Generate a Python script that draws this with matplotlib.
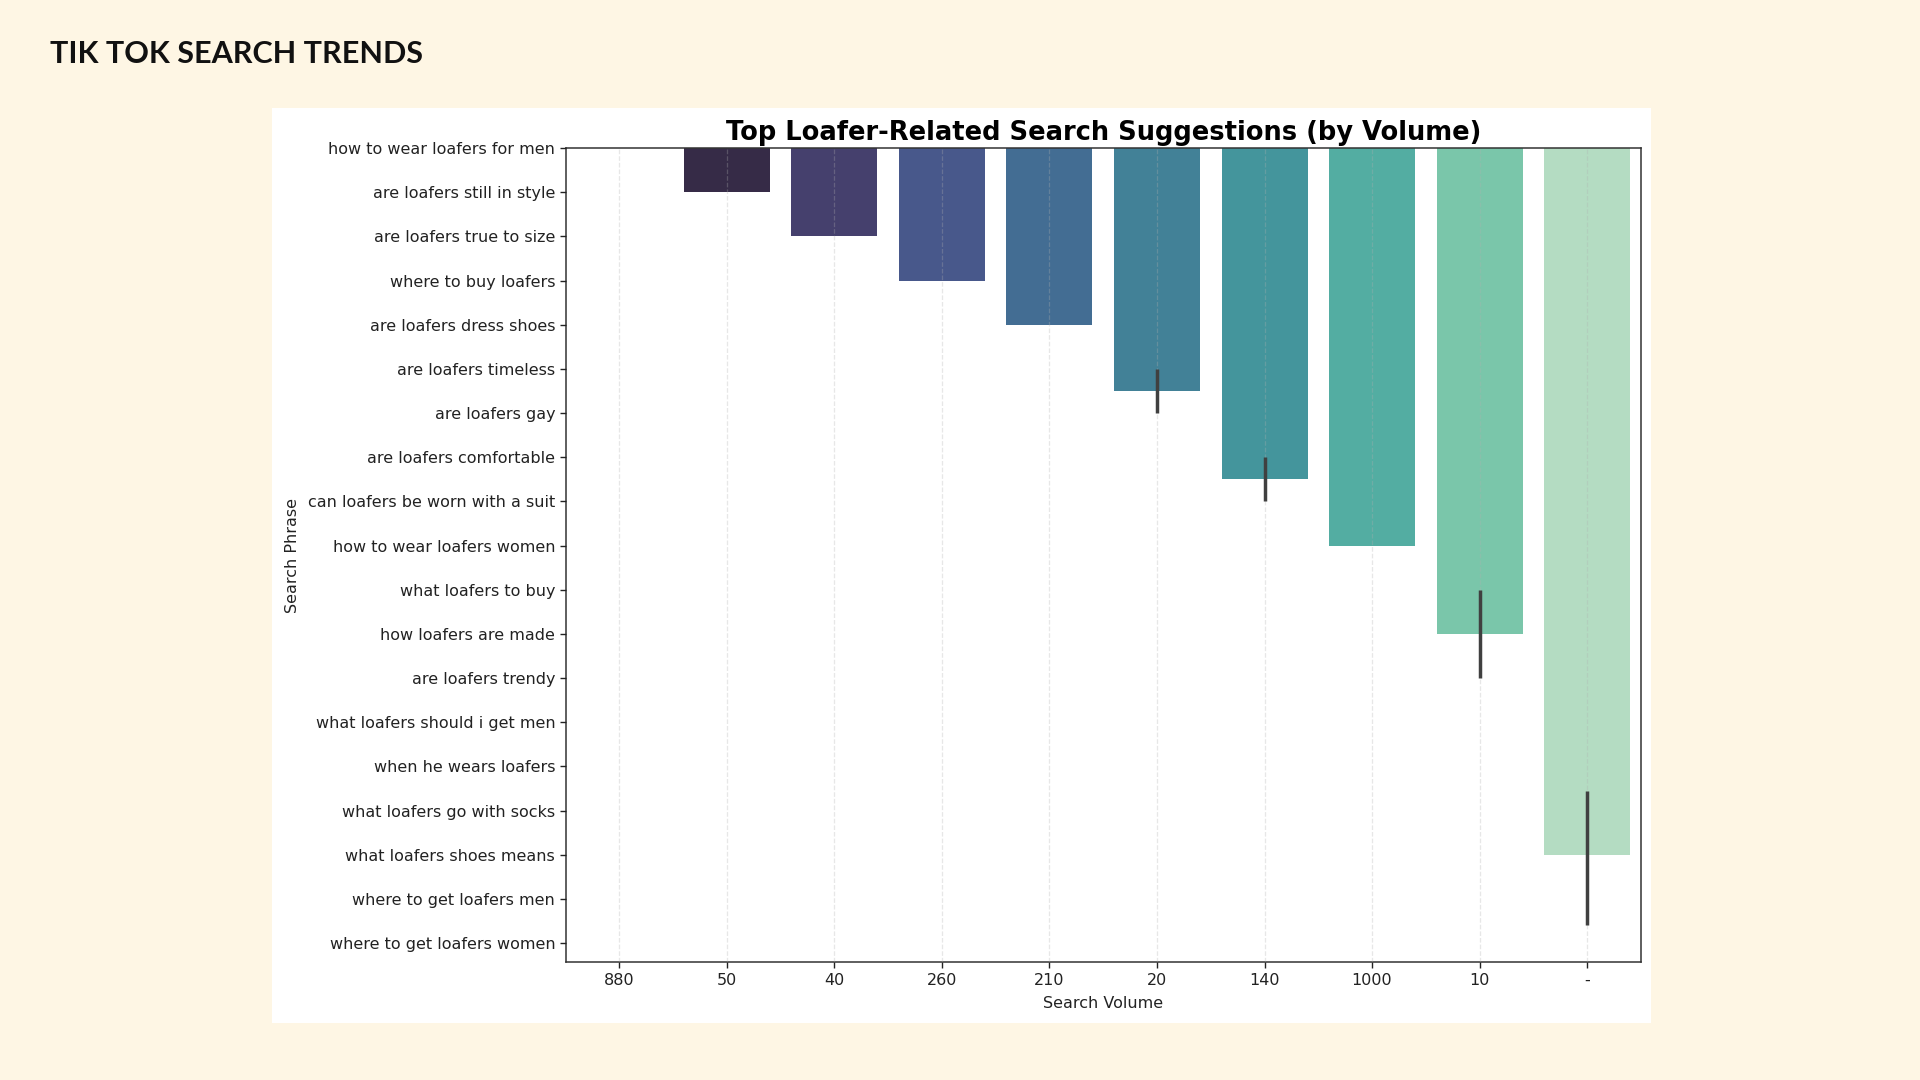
import matplotlib
matplotlib.use("Agg")
import matplotlib.pyplot as plt
import seaborn as sns
import numpy as np

# ---- data ----
phrases = [
    "how to wear loafers for men", "are loafers still in style", "are loafers true to size",
    "where to buy loafers", "are loafers dress shoes", "are loafers timeless", "are loafers gay",
    "are loafers comfortable", "can loafers be worn with a suit", "how to wear loafers women",
    "what loafers to buy", "how loafers are made", "are loafers trendy",
    "what loafers should i get men", "when he wears loafers", "what loafers go with socks",
    "what loafers shoes means", "where to get loafers men", "where to get loafers women",
]
volumes = ["880", "50", "40", "260", "210", "20", "20", "140", "140", "1000",
           "10", "10", "10", None, "-", "-", "-", "-", "-"]
volume_order = ["880", "50", "40", "260", "210", "20", "140", "1000", "10", "-"]
# confidence interval extents (in phrase-index units)
ci_low = [None, None, None, None, None, 5.0, 7.0, None, 10.0, 14.55]
ci_high = [None, None, None, None, None, 6.0, 8.0, None, 12.0, 17.6]

BG = "#FEF6E4"
fig = plt.figure(figsize=(19.2, 10.8), dpi=100, facecolor=BG)

# white panel (behind the axes)
panel = fig.add_axes([0.1416, 0.0528, 0.8597 - 0.1416, 0.9002 - 0.0528], zorder=0)
panel.set_facecolor("white")
panel.set_xticks([])
panel.set_yticks([])
for s in panel.spines.values():
    s.set_visible(False)

fig.text(0.026, 0.950, "TIK TOK SEARCH TRENDS", fontsize=22, fontweight="bold",
         family="Lato", color="#111111", va="center", ha="left")

ax = fig.add_axes([0.2946, 0.1088, 0.8546 - 0.2946, 0.8628 - 0.1088], zorder=2)
ax.set_facecolor("white")

colors = [sns.desaturate(c, 0.75) for c in sns.color_palette("mako", len(volume_order))]
idx = np.arange(len(phrases))
means = []
for v in volume_order:
    members = [i for i, vv in zip(idx, volumes) if vv == v]
    means.append(np.mean(members))

xpos = np.arange(len(volume_order))
ax.bar(xpos, means, width=0.8, color=colors, zorder=0.5)
for x, lo, hi in zip(xpos, ci_low, ci_high):
    if lo is not None:
        ax.plot([x, x], [lo, hi], color="#404040", lw=2.5, solid_capstyle="butt", zorder=3)

ax.set_xticks(xpos)
ax.set_xticklabels(volume_order)
ax.set_yticks(idx)
ax.set_yticklabels(phrases)
ax.set_xlim(-0.5, len(volume_order) - 0.5)
ax.set_ylim(18.44, 0)
ax.set_axisbelow(False)
ax.grid(axis="x", linestyle="--", alpha=0.3, color="#b0b0b0", lw=0.9)

ax.tick_params(labelsize=11.5, colors="#222222", length=4, width=1)
for s in ax.spines.values():
    s.set_color("#333333")
    s.set_linewidth(1.1)
ax.set_xlabel("Search Volume", fontsize=11.5, color="#222222", labelpad=6)
ax.set_ylabel("Search Phrase", fontsize=11.5, color="#222222", labelpad=6)
ax.set_title("Top Loafer-Related Search Suggestions (by Volume)", fontsize=18.5,
             fontweight="bold", pad=6)

fig.savefig("out.png", dpi=100, facecolor=BG)
